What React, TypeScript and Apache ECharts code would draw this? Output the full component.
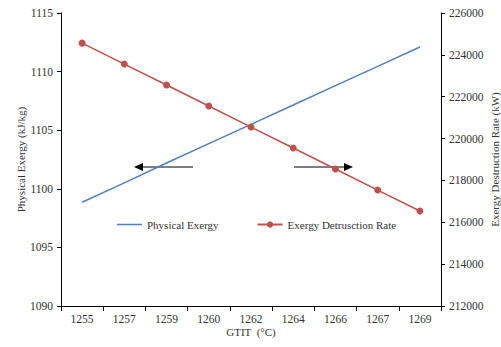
import React, { useEffect, useRef } from "react";
import * as echarts from "echarts";

const categories = ["1255", "1257", "1259", "1260", "1262", "1264", "1266", "1267", "1269"];
const physicalExergy = [1098.85, 1100.5, 1102.2, 1103.85, 1105.5, 1107.15, 1108.8, 1110.45, 1112.1];
const destructionRate = [224560, 223560, 222560, 221555, 220550, 219550, 218545, 217540, 216540];

const FONT = "Liberation Serif";
const LINE_ICON = "path://M0,0L0,0M0,3.25L25,3.25L25,4.75L0,4.75ZM25,8L25,8";

export default function App() {
  const ref = useRef<HTMLDivElement>(null);
  useEffect(() => {
    if (!ref.current) return;
    const chart = echarts.init(ref.current, null, { renderer: "svg" });
    const axisCommon = {
      axisLine: { show: true, lineStyle: { color: "#000", width: 1 } },
      axisTick: { show: true, length: 4, lineStyle: { color: "#000" } },
      splitLine: { show: false },
      nameMoveOverlap: false,
      nameTextStyle: { fontFamily: FONT, fontSize: 11, color: "#333" },
    };
    const plain = (v: number) => String(v);
    chart.setOption({
      animation: false,
      backgroundColor: "#fff",
      grid: { left: 61, right: 60, top: 13, bottom: 41, containLabel: false, outerBoundsMode: "none" },
      legend: {
        left: 112,
        top: 214,
        itemWidth: 25,
        itemHeight: 8,
        itemGap: 38,
        textStyle: { fontFamily: FONT, fontSize: 11, color: "#333" },
        data: [
          { name: "Physical Exergy", icon: LINE_ICON, itemStyle: { color: "#4F81BD", borderWidth: 0 } },
          "Exergy Detrusction Rate",
        ],
      },
      xAxis: {
        type: "category",
        data: categories,
        boundaryGap: true,
        name: "GTIT  (°C)",
        nameLocation: "middle",
        nameGap: 20,
        ...axisCommon,
        axisTick: { show: true, length: 5, alignWithLabel: false, lineStyle: { color: "#000" } },
        axisLabel: { fontFamily: FONT, fontSize: 11.5, color: "#333", margin: 7 },
      },
      yAxis: [
        {
          type: "value",
          min: 1090,
          max: 1115,
          interval: 5,
          name: "Physical Exergy (kJ/kg)",
          nameLocation: "middle",
          nameGap: 35,
          ...axisCommon,
          axisLabel: { fontFamily: FONT, fontSize: 11.5, color: "#333", margin: 8, formatter: plain },
        },
        {
          type: "value",
          min: 212000,
          max: 226000,
          interval: 2000,
          position: "right",
          name: "Exergy Destruction Rate (kW)",
          nameLocation: "middle",
          nameGap: 48,
          ...axisCommon,
          axisLabel: { fontFamily: FONT, fontSize: 11.5, color: "#333", margin: 8, formatter: plain },
        },
      ],
      series: [
        {
          name: "Physical Exergy",
          type: "line",
          yAxisIndex: 0,
          data: physicalExergy,
          symbol: "none",
          lineStyle: { color: "#4F81BD", width: 1.5 },
          itemStyle: { color: "#4F81BD" },
        },
        {
          name: "Exergy Detrusction Rate",
          type: "line",
          yAxisIndex: 1,
          data: destructionRate,
          symbol: "circle",
          symbolSize: 7,
          lineStyle: { color: "#C0504D", width: 1.5 },
          itemStyle: { color: "#C0504D" },
        },
      ],
      graphic: [
        { type: "line", shape: { x1: 140, y1: 167, x2: 193, y2: 167 }, style: { stroke: "#000", lineWidth: 1 } },
        { type: "polygon", shape: { points: [[134, 167], [143, 163], [143, 171]] }, style: { fill: "#000" } },
        { type: "line", shape: { x1: 294, y1: 167, x2: 346, y2: 167 }, style: { stroke: "#000", lineWidth: 1 } },
        { type: "polygon", shape: { points: [[353, 167], [344, 163], [344, 171]] }, style: { fill: "#000" } },
      ],
    });
    return () => chart.dispose();
  }, []);
  return <div ref={ref} style={{ width: 501, height: 347, position: "absolute", left: 0, top: 0 }} />;
}
